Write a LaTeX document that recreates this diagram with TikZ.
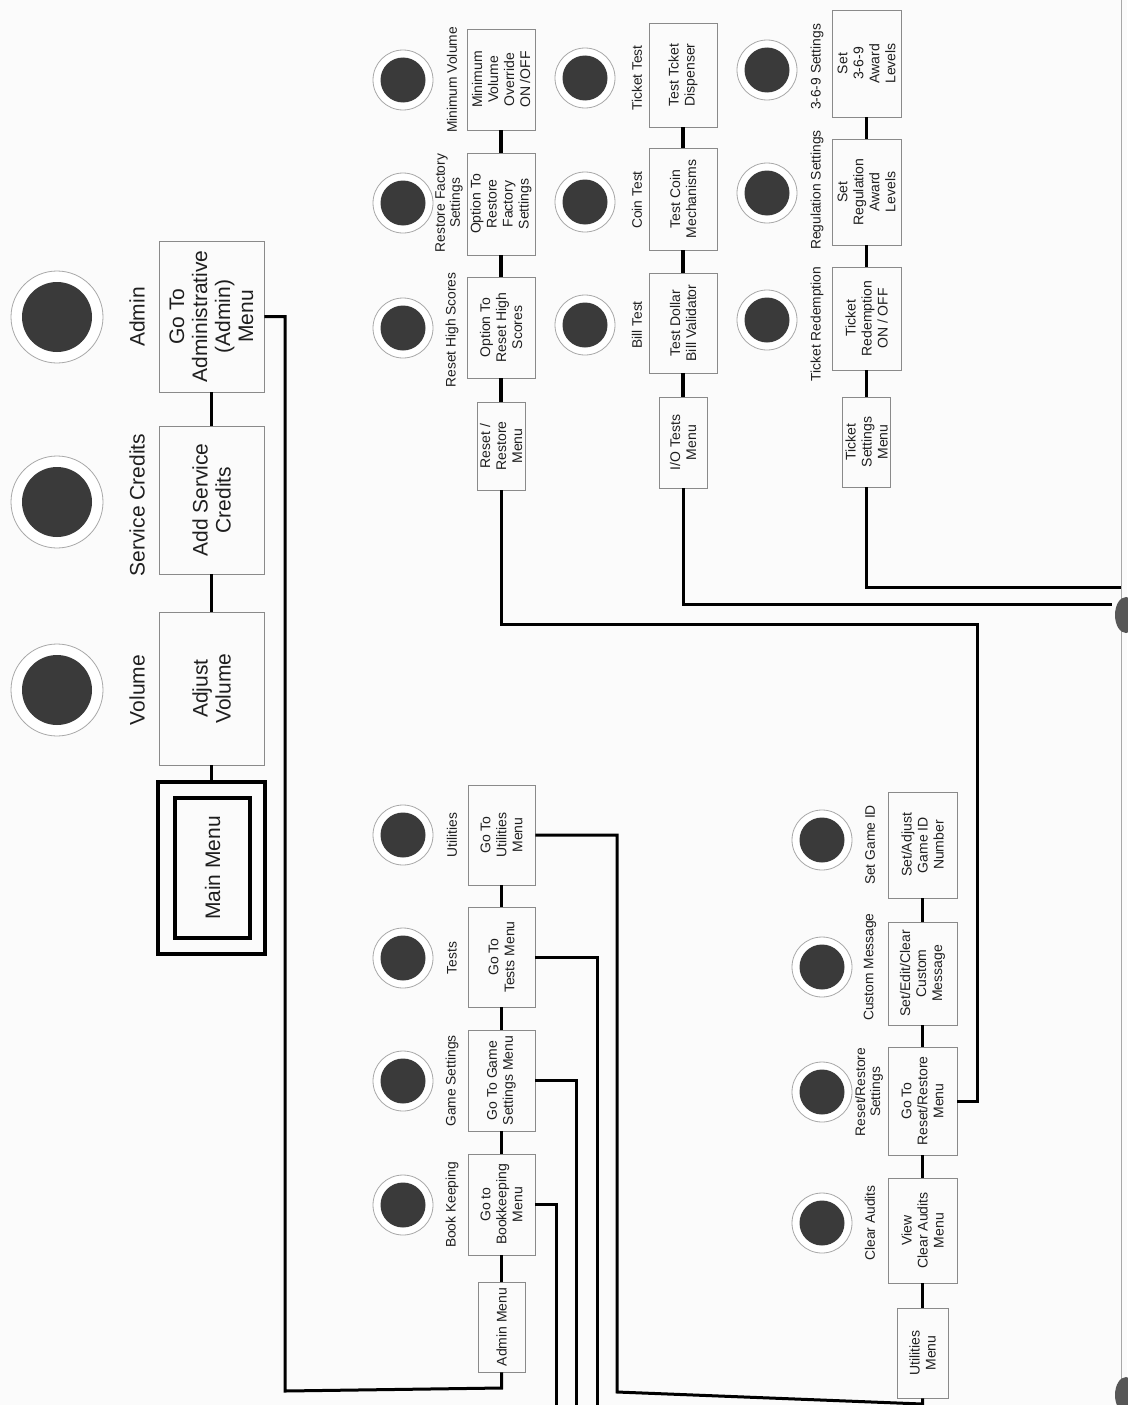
\documentclass[tikz,border=0pt]{standalone}
\usepackage{fontspec}
\setmainfont{Liberation Sans}
\definecolor{txt}{HTML}{1E1E1E}
\definecolor{boxc}{HTML}{8A8A8A}
\definecolor{ringc}{HTML}{A8A8A8}
\definecolor{btn}{HTML}{3A3A3A}
\definecolor{paper}{HTML}{FBFBFB}
\newcommand\fBig{\fontsize{21}{23}\selectfont}
\newcommand\fLab{\fontsize{13.8}{15}\selectfont}
\newcommand\fBox{\fontsize{14}{16}\selectfont}
\begin{document}
\begin{tikzpicture}[x=1pt,y=-1pt,
  bigbtn/.style={circle, minimum size=92pt, inner sep=0pt, draw=ringc, line width=0.8pt, fill=white,
    path picture={\fill[btn] (path picture bounding box.center) circle (35pt);}},
  smallbtn/.style={circle, minimum size=60pt, inner sep=0pt, draw=ringc, line width=0.8pt, fill=white,
    path picture={\fill[btn] (path picture bounding box.center) circle (22.5pt);}},
  biglab/.style={rotate=90, font=\fBig, text=txt, inner sep=0pt, align=center},
  lab/.style={rotate=90, font=\fLab, text=txt, inner sep=0pt, align=center},
  bigbox/.style={draw=boxc, line width=0.9pt, rotate=90, font=\fBig, text=txt, align=center,
    inner sep=0pt, minimum height=105pt},
  sbox/.style={draw=boxc, line width=0.9pt, rotate=90, font=\fBox, text=txt, align=center,
    inner sep=0pt, minimum height=68pt},
  mbox/.style={draw=boxc, line width=0.9pt, rotate=90, font=\fBox, text=txt, align=center,
    inner sep=0pt, minimum height=48pt},
  conn/.style={line width=3.2pt, black},
  link/.style={line width=3pt, black}
]
\useasboundingbox (0,0) rectangle (1127,1405);
\fill[paper] (0,0) rectangle (1127,1405);

% page edge and binder holes
\draw[ringc, line width=1pt] (1121,0) -- (1121,1405);
\fill[btn!85] (1126,615) ellipse (11pt and 18pt);
\fill[btn!85] (1126,1395) ellipse (11pt and 18pt);

% ---------------- top group ----------------
\node[bigbtn] (cAdmin) at (57,317) {};
\node[bigbtn] (cService) at (57,502) {};
\node[bigbtn] (cVolume) at (57,690) {};
\node[biglab] (lAdmin) at (137,317) {Admin};
\node[biglab] (lService) at (137,505) {Service Credits};
\node[biglab] (lVolume) at (137,690) {Volume};
\node[bigbox, minimum width=151pt] (bAdmin) at (211.5,316.5) {Go To\\Administrative\\(Admin)\\Menu};
\node[bigbox, minimum width=148pt] (bService) at (211.5,500) {Add Service\\Credits};
\node[bigbox, minimum width=153pt] (bVolume) at (211.5,688.5) {Adjust\\Volume};
\node[draw=black, line width=4pt, rotate=90, minimum width=172pt, minimum height=107pt, inner sep=0pt] (mOuter) at (211.5,868) {};
\node[draw=black, line width=3.5pt, rotate=90, minimum width=140pt, minimum height=75pt, inner sep=0pt,
  font=\fBig, text=txt] (mInner) at (212.5,868) {Main Menu};
\draw[conn] (bAdmin.west) -- (bService.east);
\draw[conn] (bService.west) -- (bVolume.east);
\draw[conn] (bVolume.west) -- (mOuter.east);

% ---------------- admin menu ----------------
\node[smallbtn] (cUtil) at (403,835) {};
\node[smallbtn] (cTests) at (403,958) {};
\node[smallbtn] (cGame) at (403,1081) {};
\node[smallbtn] (cBook) at (403,1205) {};
\node[lab] (lUtil) at (452,835) {Utilities};
\node[lab] (lTests) at (452,958) {Tests};
\node[lab] (lGame) at (452,1081) {Game Settings};
\node[lab] (lBook) at (452,1205) {Book Keeping};
\node[sbox, minimum width=100pt, minimum height=67pt] (bUtil) at (501.5,835) {Go To\\Utilities\\Menu};
\node[sbox, minimum width=100pt, minimum height=67pt] (bTests) at (501.5,957) {Go To\\Tests Menu};
\node[sbox, minimum width=101pt, minimum height=67pt] (bGame) at (501.5,1080.5) {Go To Game\\Settings Menu};
\node[sbox, minimum width=101pt, minimum height=67pt] (bBook) at (501.5,1204.5) {Go to\\Bookkeeping\\Menu};
\node[mbox, minimum width=90pt, minimum height=47pt] (bAdminMenu) at (501.5,1327) {Admin Menu};
\draw[conn] (bUtil.west) -- (bTests.east);
\draw[conn] (bTests.west) -- (bGame.east);
\draw[conn] (bGame.west) -- (bBook.east);
\draw[conn] (bBook.west) -- (bAdminMenu.east);

\draw[link] (bAdmin.south) -- (285,316.5) -- (285,1391) -- (501.5,1388) -- (bAdminMenu.west);
\draw[link] (bBook.south) -- (556,1204.5) -- (556,1405);
\draw[link] (bGame.south) -- (576,1080.5) -- (576,1405);
\draw[link] (bTests.south) -- (597,957) -- (597,1405);

% ---------------- utilities menu ----------------
\node[smallbtn] (cSetID) at (822,840) {};
\node[smallbtn] (cCustom) at (822,967) {};
\node[smallbtn] (cResetR) at (822,1092) {};
\node[smallbtn] (cClear) at (822,1223) {};
\node[lab] (lSetID) at (870,845) {Set Game ID};
\node[lab] (lCustom) at (870,967) {Custom Message};
\node[lab] (lResetR) at (869,1092) {Reset/Restore\\Settings};
\node[lab] (lClear) at (870,1223) {Clear Audits};
\node[sbox, minimum width=106pt, minimum height=69pt] (bSetID) at (922.5,845) {Set/Adjust\\Game ID\\Number};
\node[sbox, minimum width=103pt, minimum height=69pt] (bCustom) at (922.5,973.5) {Set/Edit/Clear\\Custom\\Message};
\node[sbox, minimum width=108pt, minimum height=69pt] (bGoReset) at (922.5,1101) {Go To\\Reset/Restore\\Menu};
\node[sbox, minimum width=105pt, minimum height=69pt] (bViewClear) at (922.5,1230.5) {View\\Clear Audits\\Menu};
\node[mbox, minimum width=90pt, minimum height=51pt] (bUtilMenu) at (922.5,1353) {Utilities\\Menu};
\draw[conn] (bSetID.west) -- (bCustom.east);
\draw[conn] (bCustom.west) -- (bGoReset.east);
\draw[conn] (bGoReset.west) -- (bViewClear.east);
\draw[conn] (bViewClear.west) -- (bUtilMenu.east);

\draw[link] (bUtil.south) -- (617,835) -- (617,1392) -- (922.5,1404) -- (bUtilMenu.west);

% ---------------- reset / restore menu ----------------
\node[smallbtn] (cMinVol) at (403,80) {};
\node[smallbtn] (cRestore) at (403,203) {};
\node[smallbtn] (cResetHigh) at (403,328) {};
\node[lab] (lMinVol) at (452,80) {Minimum Volume};
\node[lab] (lRestore) at (449,203) {Restore Factory\\Settings};
\node[lab] (lResetHigh) at (452,330) {Reset High Scores};
\node[sbox, minimum width=101pt] (bMinVol) at (501,79.5) {Minimum\\Volume\\Override\\ON /OFF};
\node[sbox, minimum width=102pt] (bRestore) at (501,204) {Option To\\Restore\\Factory\\Settings};
\node[sbox, minimum width=101pt] (bResetHigh) at (501,327.5) {Option To\\Reset High\\Scores};
\node[mbox, minimum width=88pt] (bResetMenu) at (501,446) {Reset /\\Restore\\Menu};
\draw[conn] (bMinVol.west) -- (bRestore.east);
\draw[conn] (bRestore.west) -- (bResetHigh.east);
\draw[conn] (bResetHigh.west) -- (bResetMenu.east);
\draw[link] (bGoReset.south) -- (977,1101) -- (977,624) -- (501,624) -- (bResetMenu.west);

% ---------------- I/O tests menu ----------------
\node[smallbtn] (cTicketT) at (585,78) {};
\node[smallbtn] (cCoinT) at (585,202) {};
\node[smallbtn] (cBillT) at (585,325) {};
\node[lab] (lTicketT) at (637,78) {Ticket Test};
\node[lab] (lCoinT) at (637,200) {Coin Test};
\node[lab] (lBillT) at (637,325) {Bill Test};
\node[sbox, minimum width=104pt] (bTicketD) at (683,75) {Test Tcket\\Dispenser};
\node[sbox, minimum width=102pt] (bCoin) at (683,199) {Test Coin\\Mechanisms};
\node[sbox, minimum width=100pt] (bDollar) at (683,323) {Test Dollar\\Bill Validator};
\node[mbox, minimum width=91pt] (bIOMenu) at (683,442.5) {I/O Tests\\Menu};
\draw[conn] (bTicketD.west) -- (bCoin.east);
\draw[conn] (bCoin.west) -- (bDollar.east);
\draw[conn] (bDollar.west) -- (bIOMenu.east);
\coordinate (ioEnd) at (1112,604);
\draw[link] (bIOMenu.west) -- (683,604) -- (ioEnd);

% ---------------- ticket settings menu ----------------
\node[smallbtn] (c369) at (767,70) {};
\node[smallbtn] (cReg) at (767,193) {};
\node[smallbtn] (cTRed) at (767,320) {};
\node[lab] (l369) at (817,67) {3-6-9 Settings};
\node[lab] (lReg) at (817,190) {Regulation Settings};
\node[lab] (lTRed) at (817,324) {Ticket Redemption};
\node[sbox, minimum width=107pt, minimum height=69pt] (b369) at (866.5,63.5) {Set\\3-6-9\\Award\\Levels};
\node[sbox, minimum width=106pt, minimum height=69pt] (bReg) at (866.5,192) {Set\\Regulation\\Award\\Levels};
\node[sbox, minimum width=103pt, minimum height=69pt] (bTRed) at (866.5,318.5) {Ticket\\Redemption\\ON / OFF};
\node[mbox, minimum width=90pt] (bTicketMenu) at (866.5,442) {Ticket\\Settings\\Menu};
\draw[conn] (b369.west) -- (bReg.east);
\draw[conn] (bReg.west) -- (bTRed.east);
\draw[conn] (bTRed.west) -- (bTicketMenu.east);
\coordinate (tkEnd) at (1121,587);
\draw[link] (bTicketMenu.west) -- (866.5,587) -- (tkEnd);
\end{tikzpicture}
\end{document}
